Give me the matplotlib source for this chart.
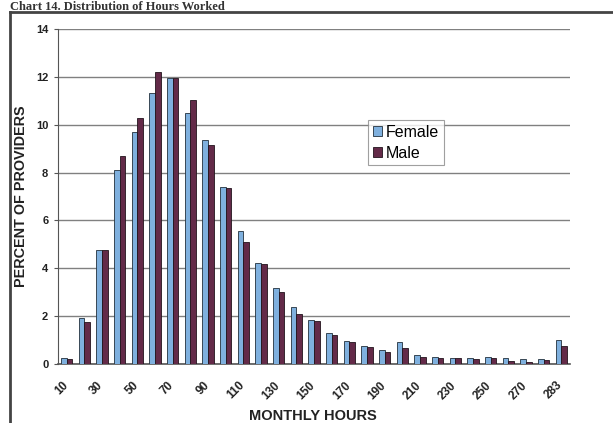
import matplotlib.pyplot as plt
import matplotlib.transforms as mtransforms
import numpy as np
from matplotlib.lines import Line2D

hours = [10, 20, 30, 40, 50, 60, 70, 80, 90, 100, 110, 120, 130, 140, 150,
         160, 170, 180, 190, 200, 210, 220, 230, 240, 250, 260, 270, 280, 283]
female = [0.26, 1.94, 4.78, 8.10, 9.71, 11.31, 11.97, 10.48, 9.38, 7.38,
          5.54, 4.22, 3.19, 2.38, 1.82, 1.31, 0.97, 0.74, 0.57, 0.91,
          0.39, 0.29, 0.26, 0.26, 0.28, 0.25, 0.20, 0.20, 0.99]
male = [0.22, 1.76, 4.78, 8.69, 10.28, 12.21, 11.97, 11.03, 9.14, 7.34,
        5.10, 4.19, 3.01, 2.10, 1.78, 1.21, 0.94, 0.69, 0.52, 0.68,
        0.30, 0.25, 0.23, 0.22, 0.25, 0.12, 0.10, 0.17, 0.74]
series_names = ["Female", "Male"]
tick_labels = [str(h) if i % 2 == 0 else "" for i, h in enumerate(hours)]

plt.rcParams["font.family"] = ["Liberation Sans", "DejaVu Sans"]

fig = plt.figure(figsize=(6.13, 4.23), dpi=100)
ax = fig.add_axes([0.0946, 0.1395, 0.8354, 0.7919])

x = np.arange(len(hours))
w = 0.32
ax.bar(x - w / 2, female, w, color="#7fb0de", edgecolor="#22303c",
       linewidth=0.6, label=series_names[0], zorder=3)
ax.bar(x + w / 2, male, w, color="#632a48", edgecolor="#22141c",
       linewidth=0.6, label=series_names[1], zorder=3)

ax.set_xlim(-0.5, len(hours) - 0.5)
ax.set_ylim(0, 14)
ax.set_yticks(np.arange(0, 15, 2))
ax.yaxis.grid(True, color="#808080", linewidth=1.0, zorder=0)
ax.set_xticks(x)
ax.set_xticklabels(tick_labels, rotation=45, ha="right", va="top",
                   rotation_mode="anchor", fontsize=8.5, fontweight="bold",
                   color="#222222")
ax.tick_params(axis="x", length=0, pad=11)
shift = mtransforms.ScaledTranslation(-5 / 100, 0, fig.dpi_scale_trans)
for lbl in ax.get_xticklabels():
    lbl.set_transform(lbl.get_transform() + shift)
ax.tick_params(axis="y", length=3, width=0.8, color="#555555", labelsize=8,
               labelcolor="#222222", pad=4)
for lbl in ax.get_yticklabels():
    lbl.set_fontweight("bold")

for side in ["top", "right"]:
    ax.spines[side].set_visible(False)
ax.spines["left"].set_color("#555555")
ax.spines["bottom"].set_color("#555555")
ax.spines["left"].set_linewidth(0.8)
ax.spines["bottom"].set_linewidth(1.2)

ax.set_xlabel("MONTHLY HOURS", fontsize=10.5, fontweight="bold", color="#222222")
ax.xaxis.set_label_coords(0.498, -0.133)
ax.set_ylabel("PERCENT OF PROVIDERS", fontsize=10.4, fontweight="bold",
              color="#222222")
ax.yaxis.set_label_coords(-0.058, 0.5)

leg = ax.legend(loc="upper left", bbox_to_anchor=(0.605, 0.728), fontsize=11.5,
                frameon=True, fancybox=False, handlelength=0.6, handleheight=0.6,
                handletextpad=0.25, borderpad=0.3, labelspacing=0.35,
                borderaxespad=0)
leg.get_frame().set_edgecolor("#888888")
leg.get_frame().set_linewidth(0.8)

# outer frame of the report panel
fig.add_artist(Line2D([0.0163, 1.0], [0.9716, 0.9716], color="#444444",
                      linewidth=2.0, transform=fig.transFigure))
fig.add_artist(Line2D([0.0163, 0.0163], [0.0, 0.9716], color="#444444",
                      linewidth=2.0, transform=fig.transFigure))

fig.text(0.016, 0.977, "Chart 14. Distribution of Hours Worked",
         fontsize=9, fontweight="bold", family=["Liberation Serif", "DejaVu Serif"],
         va="baseline", ha="left", color="#333333")

fig.savefig("out.png", dpi=100)
